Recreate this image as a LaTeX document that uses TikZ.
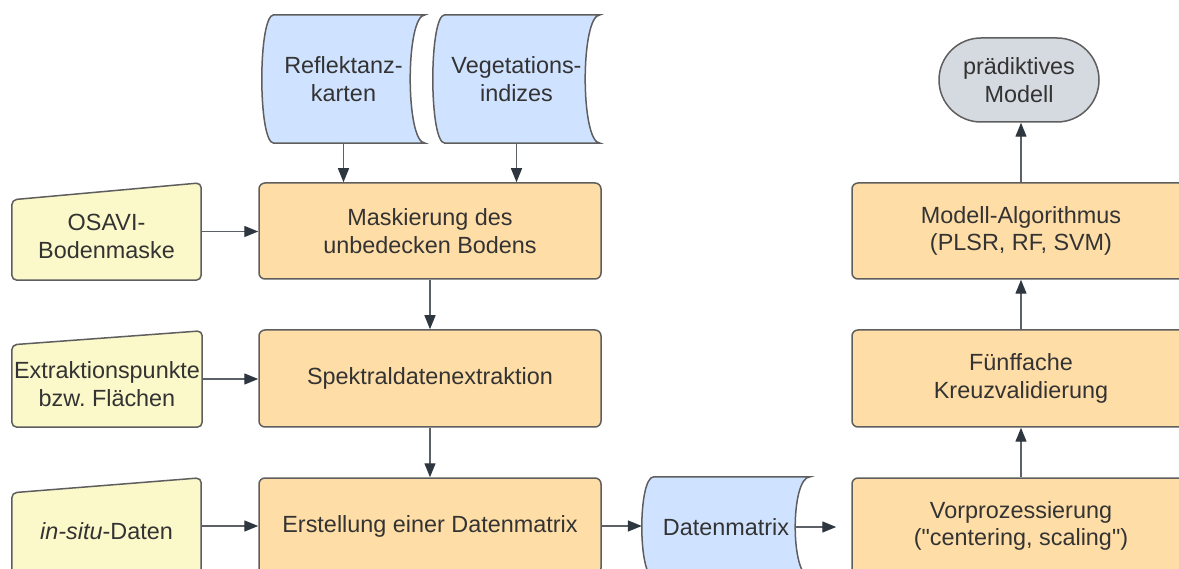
\documentclass[tikz,border=0pt]{standalone}
\usepackage{fontspec}
\setmainfont{Liberation Sans}
\usetikzlibrary{arrows.meta,calc,backgrounds}
\definecolor{orfill}{HTML}{FFDDA6}
\definecolor{blfill}{HTML}{CFE2FF}
\definecolor{yefill}{HTML}{FBF8C9}
\definecolor{grfill}{HTML}{D5D9E0}
\definecolor{strokec}{HTML}{5E5E5E}
\definecolor{txt}{HTML}{333333}
\definecolor{arrc}{HTML}{5C6168}
\definecolor{tipc}{HTML}{2E3640}
\frenchspacing
\newcommand\StoredData[1]{%
  \draw[shapeline, fill=blfill] ([xshift=12pt]#1.north west) -- (#1.north east)
    .. controls ([xshift=-20pt]#1.north east) and ([xshift=-20pt]#1.south east) .. (#1.south east)
    -- ([xshift=12pt]#1.south west)
    .. controls ([xshift=-4pt]#1.south west) and ([xshift=-4pt]#1.north west) .. cycle;}
% manual input: node is placed 5pt below the shape centre (text sits low in the slanted box)
\newcommand\ManualInput[2]{%
  \draw[shapeline, fill=yefill, rounded corners=5pt] ([yshift=5pt-#2]#1.north west) -- ([yshift=5pt]#1.north east)
    -- ([yshift=5pt]#1.south east) -- ([yshift=5pt]#1.south west) -- cycle;}
\begin{document}
\begin{tikzpicture}[x=1pt,y=-1pt,
  every node/.style={font=\fontsize{23.4}{27.5}\selectfont, text=txt, align=center, inner sep=0pt},
  shapeline/.style={draw=strokec, line width=1.5pt},
  proc/.style={draw=strokec, fill=orfill, line width=1.5pt, rounded corners=6pt},
  term/.style={draw=strokec, fill=grfill, line width=1.5pt, rounded corners=42pt},
  arr/.style={draw=arrc, line width=1.4pt, -{Triangle[length=14pt,width=11pt,color=tipc]}}]
\useasboundingbox (0,0) rectangle (1179,569);
\clip (0,0) rectangle (1179,569);
% stored data (blue)
\node[minimum width=163pt, minimum height=128pt] (refl) at (343.5,79) {Reflektanz-\\karten};
\node[minimum width=167pt, minimum height=128pt] (veg) at (516.5,79) {Vegetations-\\indizes};
\node[minimum width=168pt, minimum height=100pt] (dm) at (726,527) {Datenmatrix};
% manual inputs (yellow)
\node[minimum width=189pt, minimum height=97pt] (osavi) at (106.5,236.5) {OSAVI-\\Bodenmaske};
\node[minimum width=190pt, minimum height=96pt] (extr) at (107,384) {Extraktionspunkte\\bzw. Fl\"achen};
\node[minimum width=189pt, minimum height=96pt] (insitu) at (106.5,531) {\textit{in-situ}-Daten};
% process boxes
\node[proc, minimum width=342pt, minimum height=96pt] (mask) at (430,231) {Maskierung des\\unbedecken Bodens};
\node[proc, minimum width=342pt, minimum height=97pt] (spek) at (430,378.5) {Spektraldatenextraktion};
\node[proc, minimum width=342pt, minimum height=96pt] (erst) at (430,526) {Erstellung einer Datenmatrix};
\node[proc, minimum width=338pt, minimum height=96pt] (vor) at (1021,526) {Vorprozessierung\\(\textquotedbl centering, scaling\textquotedbl )};
\node[proc, minimum width=338pt, minimum height=97pt] (fuenf) at (1021,378.5) {F\"unffache\\Kreuzvalidierung};
\node[proc, minimum width=338pt, minimum height=96pt] (modell) at (1021,231) {Modell-Algorithmus\\(PLSR, RF, SVM)};
\node[term, minimum width=160pt, minimum height=84pt] (pm) at (1019,80) {pr\"adiktives\\Modell};
\begin{scope}[on background layer]
\clip (0,0) rectangle (1179,569);
\StoredData{refl}
\StoredData{veg}
\StoredData{dm}
\ManualInput{osavi}{17pt}
\ManualInput{extr}{14pt}
\ManualInput{insitu}{15pt}
\end{scope}
% connectors
\draw[arr] (refl.south) -- (refl.south |- mask.north);
\draw[arr] (veg.south) -- (veg.south |- mask.north);
\draw[arr] ([yshift=5pt]osavi.east) -- ([yshift=5pt]osavi.east -| mask.west);
\draw[arr] ([yshift=5pt]extr.east) -- ([yshift=5pt]extr.east -| spek.west);
\draw[arr] ([yshift=5pt]insitu.east) -- ([yshift=5pt]insitu.east -| erst.west);
\draw[arr] (mask.south) -- (spek.north);
\draw[arr] (spek.south) -- (erst.north);
\draw[arr] (erst.east) -- (erst.east -| dm.west);
\draw[arr] ([xshift=-15pt]dm.east) -- ([xshift=-15pt]dm.east -| vor.west);
\draw[arr] (vor.north) -- (fuenf.south);
\draw[arr] (fuenf.north) -- (modell.south);
\draw[arr] (modell.north) -- (modell.north |- pm.south);
\end{tikzpicture}
\end{document}
